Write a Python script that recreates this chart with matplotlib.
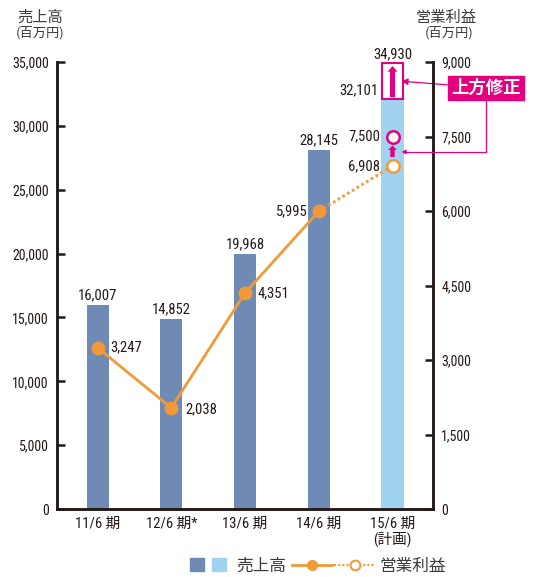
#!/usr/bin/env python3
"""
Sales and operating profit chart (売上高 / 営業利益)
"""
import matplotlib
matplotlib.use("Agg")
import matplotlib.pyplot as plt
from matplotlib import font_manager
from matplotlib.patches import Rectangle, Patch
from matplotlib.lines import Line2D
from matplotlib.legend_handler import HandlerTuple

# Data
periods = ["11/6 期", "12/6 期*", "13/6 期", "14/6 期", "15/6 期\n(計画)"]
sales = [16007, 14852, 19968, 28145, 32101]
sales_revised = 34930
profit = [3247, 2038, 4351, 5995, 6908]
profit_revised = 7500
sales_labels = ["16,007", "14,852", "19,968", "28,145", "32,101"]
profit_labels = ["3,247", "2,038", "4,351", "5,995", "6,908"]
left_ticks = [0, 5000, 10000, 15000, 20000, 25000, 30000, 35000]
right_ticks = [0, 1500, 3000, 4500, 6000, 7500, 9000]

BAR_DARK = "#6f8bb5"
BAR_LIGHT = "#9fd3f0"
ORANGE = "#f29a38"
PINK = "#e4007f"
INK = "#231815"


def pick_number_font():
    names = {f.name for f in font_manager.fontManager.ttflist}
    for cand in ["Liberation Sans Narrow", "Roboto Condensed", "DejaVu Sans Condensed", "Roboto"]:
        if cand in names:
            return cand
    return "DejaVu Sans"


def main():
    plt.rcParams['font.family'] = ['Noto Sans CJK JP', 'DejaVu Sans']
    plt.rcParams['font.size'] = 8
    nf = pick_number_font()
    num = dict(family=[nf, 'Noto Sans CJK JP'], fontsize=10.5, color=INK)

    fig = plt.figure(figsize=(5.33, 5.77), dpi=100)
    ax = fig.add_axes([0.107, 0.1178, 0.7055, 0.7747])
    ax2 = ax.twinx()

    x = list(range(len(periods)))
    colors = [BAR_DARK] * 4 + [BAR_LIGHT]
    ax.bar(x, sales, width=0.3, color=colors, zorder=1)

    # revised part of the last bar
    ax.add_patch(Rectangle((4 - 0.14, sales[4]), 0.28, sales_revised - sales[4],
                           facecolor="white", edgecolor=PINK, linewidth=1.5, zorder=2))
    ax.annotate("", xy=(4, sales_revised - 250), xytext=(4, sales[4] + 150),
                arrowprops=dict(arrowstyle="simple,head_width=0.9,tail_width=0.45,head_length=0.5",
                                color=PINK, lw=0, shrinkA=0, shrinkB=0), zorder=3)

    for i in range(4):
        ax.annotate(sales_labels[i], (i, sales[i]), xytext=(0, 2), textcoords="offset points",
                    ha="center", va="bottom", **num)
    ax.annotate(sales_labels[4], (4 - 0.15, sales[4]), xytext=(-2, 1), textcoords="offset points",
                ha="right", va="bottom", **num)
    ax.annotate("{:,}".format(sales_revised), (4, sales_revised), xytext=(0, 1),
                textcoords="offset points", ha="center", va="bottom", **num)

    # operating profit line
    ax2.plot(x[:4], profit[:4], color=ORANGE, lw=2, marker="o", ms=9, zorder=4)
    ax2.plot(x[3:], profit[3:], color=ORANGE, lw=2, ls=(0, (1, 1)), zorder=4)
    ax2.plot([4], [profit[4]], marker="o", ms=9, mfc="white", mec=ORANGE, mew=1.8, zorder=5)
    ax2.plot([4], [profit_revised], marker="o", ms=9, mfc="white", mec=PINK, mew=1.8, zorder=5)
    ax2.annotate("", xy=(4, profit_revised - 180), xytext=(4, profit[4] + 180),
                 arrowprops=dict(arrowstyle="simple,head_width=0.8,tail_width=0.4,head_length=0.4",
                                 color=PINK, lw=0, shrinkA=0, shrinkB=0), zorder=5)

    offsets = [(9, 0, "left", "center"), (10, -1, "left", "center"), (9, 0, "left", "center"),
               (-8, 0, "right", "center"), (-9, 0, "right", "center")]
    for i, (dx, dy, ha, va) in enumerate(offsets):
        ax2.annotate(profit_labels[i], (i, profit[i]), xytext=(dx, dy), textcoords="offset points",
                     ha=ha, va=va, **num)
    ax2.annotate("{:,}".format(profit_revised), (4, profit_revised), xytext=(-9, 0),
                 textcoords="offset points", ha="right", va="center", **num)

    # 上方修正 callout
    ax.annotate("上方修正", xy=(4.12, 33500), xytext=(486, 489), textcoords="figure pixels",
                ha="center", va="center", fontsize=12.5, color="white", fontweight="bold",
                bbox=dict(boxstyle="square,pad=0.2", fc=PINK, ec=PINK),
                arrowprops=dict(arrowstyle="-|>,head_width=0.15,head_length=0.3", color=PINK,
                                lw=0.9, shrinkA=0, shrinkB=0), annotation_clip=False, zorder=6)
    ax2.annotate("", xy=(4.12, 7190), xytext=(486, 477), textcoords="figure pixels",
                 arrowprops=dict(arrowstyle="-|>,head_width=0.15,head_length=0.3", color=PINK,
                                 lw=0.9, shrinkA=0, shrinkB=0,
                                 connectionstyle="angle,angleA=90,angleB=0,rad=0"),
                 annotation_clip=False, zorder=6)

    # Axes format
    ax.set_xlim(-0.55, 4.55)
    ax.set_ylim(0, 35000)
    ax2.set_ylim(0, 9000)
    ax.set_yticks(left_ticks)
    ax.set_yticklabels(["{:,}".format(v) for v in left_ticks])
    ax2.set_yticks(right_ticks)
    ax2.set_yticklabels(["{:,}".format(v) for v in right_ticks])
    ax.set_xticks(x)
    ax.set_xticklabels(periods, color=INK, linespacing=1.0)
    for lab in ax.get_xticklabels():
        lab.set_fontproperties(font_manager.FontProperties(family=[nf, 'Noto Sans CJK JP'], size=10.5))
    ax.tick_params(axis="x", length=0, pad=6)
    for a in (ax, ax2):
        a.tick_params(axis="y", direction="in", length=6, width=1.8, color=INK, pad=6)
        for lab in a.get_yticklabels():
            lab.set_fontproperties(font_manager.FontProperties(family=[nf], size=10))
            lab.set_color(INK)
        a.spines["top"].set_visible(False)
        for s in ("left", "right", "bottom"):
            a.spines[s].set_color(INK)
            a.spines[s].set_linewidth(1.8)

    # axis titles
    fig.text(40 / 533, 1 - 17 / 577, "売上高", ha="center", va="center", fontsize=11, color="#3e3a39")
    fig.text(40 / 533, 1 - 33 / 577, "(百万円)", ha="center", va="center", fontsize=9.5, color="#3e3a39")
    fig.text(446 / 533, 1 - 17 / 577, "営業利益", ha="center", va="center", fontsize=11, color="#3e3a39")
    fig.text(449 / 533, 1 - 33 / 577, "(百万円)", ha="center", va="center", fontsize=9.5, color="#3e3a39")

    # legend (two parts so each handle gets its own width)
    h_sales = (Patch(color=BAR_DARK), Patch(color=BAR_LIGHT))
    h_profit = (Line2D([], [], color=ORANGE, lw=2, marker="o", ms=7),
                Line2D([], [], color=ORANGE, lw=1.5, ls=(0, (1, 1)), marker="o", ms=7,
                       mfc="white", mec=ORANGE, mew=1.5))
    leg1 = fig.legend([h_sales], ["売上高"], frameon=False, loc="center",
                      bbox_to_anchor=(238 / 533, 1 - 566 / 577), fontsize=12,
                      handler_map={tuple: HandlerTuple(ndivide=None, pad=0.5)},
                      handlelength=2.2, handleheight=0.85, handletextpad=0.6)
    leg2 = fig.legend([h_profit], ["営業利益"], frameon=False, loc="center",
                      bbox_to_anchor=(369 / 533, 1 - 566 / 577), fontsize=12,
                      handler_map={tuple: HandlerTuple(ndivide=None, pad=0.1)},
                      handlelength=5.0, handletextpad=0.3)
    for leg in (leg1, leg2):
        for t in leg.get_texts():
            t.set_color("#3e3a39")

    fig.savefig("out.png", dpi=100)


if __name__ == "__main__":
    main()
